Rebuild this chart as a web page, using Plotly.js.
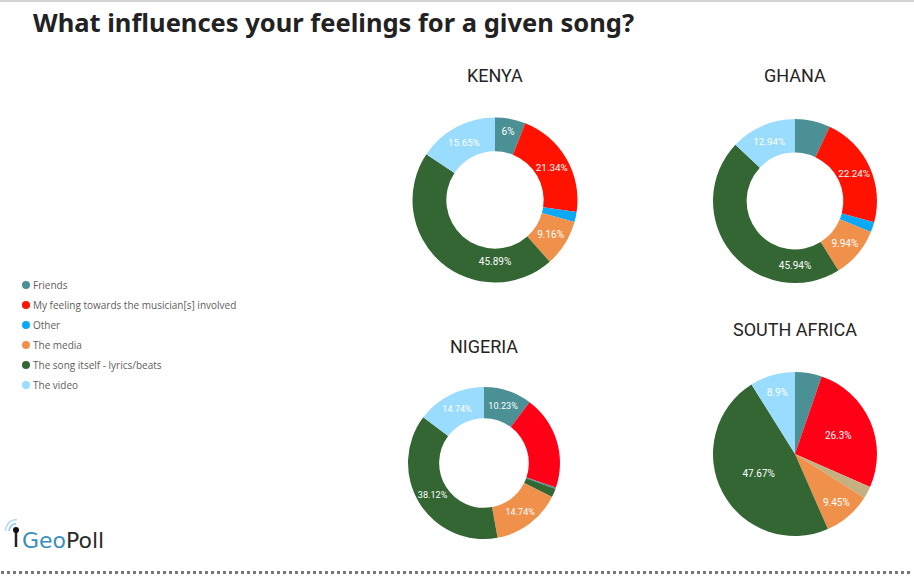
<!DOCTYPE html>
<html>
<head>
<meta charset="utf-8">
<script src="https://cdn.plot.ly/plotly-3.0.1.min.js"></script>
<style>html,body{margin:0;padding:0;background:#fff;}#chart{width:914px;height:584px;}</style>
</head>
<body>
<div id="chart"></div>
<script>
// ---- data ----
const categories = ['Friends', 'My feeling towards the musician[s] involved', 'Other', 'The media', 'The song itself - lyrics/beats', 'The video'];
const countries = ['KENYA', 'GHANA', 'NIGERIA', 'SOUTH AFRICA'];

const kenyaLabels = categories;
const kenyaValues = [6, 21.34, 1.96, 9.16, 45.89, 15.65];
const kenyaShown = [1, 1, 0, 1, 1, 1];

const ghanaLabels = categories;
const ghanaValues = [6.95, 22.24, 1.99, 9.94, 45.94, 12.94];
const ghanaShown = [0, 1, 0, 1, 1, 1];

const nigeriaLabels = ['Friends', 'My feeling towards the musician[s] involved', 'Other', 'None', 'The media', 'The song itself - lyrics/beats', 'The video'];
const nigeriaValues = [10.23, 20.0, 0.3, 1.87, 14.74, 38.12, 14.74];
const nigeriaShown = [1, 0, 0, 0, 1, 1, 1];

const southAfricaLabels = categories;
const southAfricaValues = [5.28, 26.3, 2.4, 9.45, 47.67, 8.9];
const southAfricaShown = [0, 1, 0, 1, 1, 1];

// ---- styles ----
const C = {
  friends: '#4a9094', musician: '#ff1200', musician2: '#ff0016', other: '#0aa8f5',
  media: '#f0914b', song: '#336633', video: '#99dcfd', tan: '#c4b080'
};
const legendColors = [C.friends, C.musician, C.other, C.media, C.song, C.video];
const kenyaColors = [C.friends, C.musician, C.other, C.media, C.song, C.video];
const ghanaColors = [C.friends, C.musician, C.other, C.media, C.song, C.video];
const nigeriaColors = [C.friends, C.musician2, C.friends, C.song, C.media, C.song, C.video];
const saColors = [C.friends, C.musician2, C.tan, C.media, C.song, C.video];

const W = 914, H = 584;
const px = x => x / W;
const py = y => 1 - y / H;
const dom = (cx, cy, r) => ({ x: [(cx - r) / W, (cx + r) / W], y: [1 - (cy + r) / H, 1 - (cy - r) / H] });

function pieTrace(labels, values, shown, colors, domain, hole) {
  return {
    type: 'pie', labels: labels, values: values,
    text: values.map((v, i) => shown[i] ? String(v) + '%' : ''),
    textinfo: 'text', textposition: 'inside', insidetextorientation: 'horizontal',
    insidetextfont: { family: 'Roboto, sans-serif', size: 10, color: '#ffffff' },
    hovertemplate: '%{label}: %{value}%<extra></extra>',
    marker: { colors: colors, line: { width: 0 } },
    sort: false, direction: 'clockwise', rotation: 0,
    hole: hole, domain: domain, showlegend: false
  };
}

const data = [
  pieTrace(kenyaLabels, kenyaValues, kenyaShown, kenyaColors, dom(495, 200, 82.5), 0.59),
  pieTrace(ghanaLabels, ghanaValues, ghanaShown, ghanaColors, dom(795, 201, 82), 0.59),
  pieTrace(nigeriaLabels, nigeriaValues, nigeriaShown, nigeriaColors, dom(484, 463, 76), 0.59),
  pieTrace(southAfricaLabels, southAfricaValues, southAfricaShown, saColors, dom(795, 454, 82), 0)
];

const titlePos = [[495, 75], [795, 75], [484, 346], [795, 329]];
const annotations = [];
annotations.push({
  xref: 'paper', yref: 'paper', x: px(31), y: py(22), xanchor: 'left', yanchor: 'middle',
  text: '<b>What influences your feelings for a given song?</b>', showarrow: false,
  font: { family: 'Noto Sans, sans-serif', size: 25.5, color: '#222222' }
});
countries.forEach((c, i) => annotations.push({
  xref: 'paper', yref: 'paper', x: px(titlePos[i][0]), y: py(titlePos[i][1]),
  xanchor: 'center', yanchor: 'middle', text: c, showarrow: false,
  font: { family: 'Roboto, sans-serif', size: 18, color: '#252423' }
}));

const shapes = [];
categories.forEach((c, i) => {
  const yy = 285 + 20 * i;
  shapes.push({ type: 'circle', xref: 'paper', yref: 'paper', x0: px(22), x1: px(30), y0: py(yy + 4), y1: py(yy - 4),
    fillcolor: legendColors[i], line: { width: 0 } });
  annotations.push({ xref: 'paper', yref: 'paper', x: px(31), y: py(yy), xanchor: 'left', yanchor: 'middle',
    text: c, showarrow: false, font: { family: 'Open Sans, sans-serif', size: 10, color: '#605e5c' } });
});

// frame lines
shapes.push({ type: 'line', xref: 'paper', yref: 'paper', x0: 0, x1: 1, y0: py(1), y1: py(1), line: { color: '#d4d4d4', width: 2 } });
shapes.push({ type: 'line', xref: 'paper', yref: 'paper', x0: px(1), x1: px(912), y0: py(572.5), y1: py(572.5), line: { color: '#777777', width: 3, dash: '3px,3px' } });

// GeoPoll logo
shapes.push({ type: 'path', xref: 'paper', yref: 'paper',
  path: `M ${px(9)} ${py(531)} Q ${px(10)} ${py(524)} ${px(16)} ${py(523.5)}`, line: { color: '#8ccbe6', width: 1.5 } });
shapes.push({ type: 'path', xref: 'paper', yref: 'paper',
  path: `M ${px(5.5)} ${py(531)} Q ${px(6.5)} ${py(520)} ${px(17)} ${py(519.5)}`, line: { color: '#b5dcee', width: 1.5 } });
shapes.push({ type: 'line', xref: 'paper', yref: 'paper', x0: px(16), x1: px(16), y0: py(530), y1: py(547), line: { color: '#222222', width: 2.5 } });
shapes.push({ type: 'circle', xref: 'paper', yref: 'paper', x0: px(13), x1: px(19), y0: py(533), y1: py(527), fillcolor: '#111111', line: { width: 0 } });
annotations.push({ xref: 'paper', yref: 'paper', x: px(20), y: py(540), xanchor: 'left', yanchor: 'middle', showarrow: false,
  text: '<span style="color:#3a8fbd">Geo</span><span style="color:#2a2a2a">Poll</span>',
  font: { family: 'DejaVu Sans, sans-serif', size: 22, color: '#2a2a2a' } });

const layout = {
  width: W, height: H, margin: { l: 0, r: 0, t: 0, b: 0 },
  paper_bgcolor: '#ffffff', plot_bgcolor: '#ffffff', showlegend: false,
  annotations: annotations, shapes: shapes
};
Plotly.newPlot('chart', data, layout, { displayModeBar: false, responsive: false });
</script>
</body>
</html>
